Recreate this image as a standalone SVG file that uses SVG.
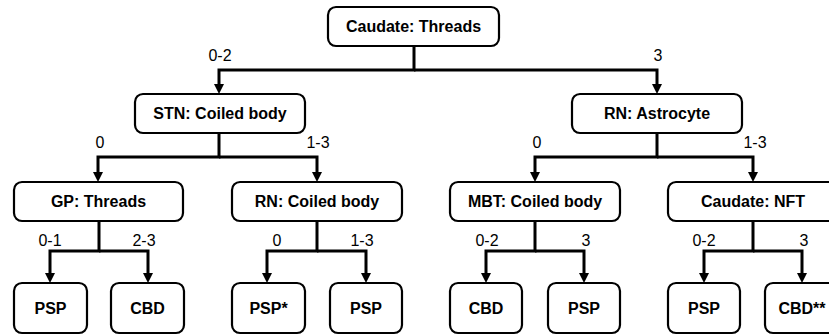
<svg xmlns="http://www.w3.org/2000/svg" width="829" height="335" viewBox="0 0 829 335">
  <defs>
    <marker id="arrow" markerUnits="userSpaceOnUse" markerWidth="11" markerHeight="11" refX="4" refY="5" orient="auto">
      <path d="M0,0 L10,5 L0,10 z" fill="#000"/>
    </marker>
    <style>
      .box { fill: #fff; stroke: #000; stroke-width: 2.2; }
      .node-text { font-family: "Liberation Sans", Arial, sans-serif; font-weight: bold; font-size: 16px; text-anchor: middle; fill: #000; }
      .edge { fill: none; stroke: #000; stroke-width: 3; stroke-linejoin: miter; }
      .label { font-family: "Liberation Sans", Arial, sans-serif; font-size: 16px; text-anchor: middle; fill: #000; }
    </style>
  </defs>
  <rect width="829" height="335" fill="#fff"/>

  <!-- connectors -->
  <g id="connectors">
    <path class="edge" d="M414,46 V70 H219 V88" marker-end="url(#arrow)"/>
    <path class="edge" d="M414,70 H657 V88" marker-end="url(#arrow)"/>

    <path class="edge" d="M219,133 V157 H98 V176" marker-end="url(#arrow)"/>
    <path class="edge" d="M219,157 H317 V176" marker-end="url(#arrow)"/>
    <path class="edge" d="M657,133 V157 H535 V176" marker-end="url(#arrow)"/>
    <path class="edge" d="M657,157 H753 V176" marker-end="url(#arrow)"/>

    <path class="edge" d="M99,221 V251 H50 V277" marker-end="url(#arrow)"/>
    <path class="edge" d="M99,251 H148 V277" marker-end="url(#arrow)"/>
    <path class="edge" d="M317,221 V251 H267 V277" marker-end="url(#arrow)"/>
    <path class="edge" d="M317,251 H366 V277" marker-end="url(#arrow)"/>
    <path class="edge" d="M535,221 V251 H486 V277" marker-end="url(#arrow)"/>
    <path class="edge" d="M535,251 H584 V277" marker-end="url(#arrow)"/>
    <path class="edge" d="M753,221 V251 H704 V277" marker-end="url(#arrow)"/>
    <path class="edge" d="M753,251 H802 V277" marker-end="url(#arrow)"/>

    <!-- branch labels -->
    <text class="label" x="220" y="61">0-2</text>
    <text class="label" x="658" y="61">3</text>
    <text class="label" x="100" y="148">0</text>
    <text class="label" x="318" y="148">1-3</text>
    <text class="label" x="537" y="148">0</text>
    <text class="label" x="755" y="148">1-3</text>
    <text class="label" x="50" y="246">0-1</text>
    <text class="label" x="144" y="246">2-3</text>
    <text class="label" x="277" y="246">0</text>
    <text class="label" x="362" y="246">1-3</text>
    <text class="label" x="487" y="246">0-2</text>
    <text class="label" x="586" y="246">3</text>
    <text class="label" x="704" y="246">0-2</text>
    <text class="label" x="804" y="246">3</text>
  </g>

  <!-- level 0 -->
  <g id="caudate-threads">
    <rect class="box" x="328" y="7" width="171" height="39" rx="8"/>
    <text class="node-text" x="413.5" y="32">Caudate: Threads</text>
  </g>

  <!-- level 1 -->
  <g id="stn-coiled-body">
    <rect class="box" x="135" y="94" width="170" height="39" rx="8"/>
    <text class="node-text" x="220" y="119">STN: Coiled body</text>
  </g>
  <g id="rn-astrocyte">
    <rect class="box" x="572" y="94" width="170" height="39" rx="8"/>
    <text class="node-text" x="657" y="119">RN: Astrocyte</text>
  </g>

  <!-- level 2 -->
  <g id="gp-threads">
    <rect class="box" x="14" y="182" width="169" height="39" rx="8"/>
    <text class="node-text" x="98.5" y="207">GP: Threads</text>
  </g>
  <g id="rn-coiled-body">
    <rect class="box" x="232" y="182" width="170" height="39" rx="8"/>
    <text class="node-text" x="317" y="207">RN: Coiled body</text>
  </g>
  <g id="mbt-coiled-body">
    <rect class="box" x="450" y="182" width="170" height="39" rx="8"/>
    <text class="node-text" x="535" y="207">MBT: Coiled body</text>
  </g>
  <g id="caudate-nft">
    <rect class="box" x="668" y="182" width="170" height="39" rx="8"/>
    <text class="node-text" x="753" y="207">Caudate: NFT</text>
  </g>

  <!-- level 3 -->
  <g id="leaf-psp-1">
    <rect class="box" x="14" y="283" width="73" height="50" rx="8"/>
    <text class="node-text" x="50.5" y="314">PSP</text>
  </g>
  <g id="leaf-cbd-1">
    <rect class="box" x="111" y="283" width="73" height="50" rx="8"/>
    <text class="node-text" x="147.5" y="314">CBD</text>
  </g>
  <g id="leaf-psp-star">
    <rect class="box" x="232" y="283" width="73" height="50" rx="8"/>
    <text class="node-text" x="268.5" y="314">PSP*</text>
  </g>
  <g id="leaf-psp-2">
    <rect class="box" x="330" y="283" width="72" height="50" rx="8"/>
    <text class="node-text" x="366" y="314">PSP</text>
  </g>
  <g id="leaf-cbd-2">
    <rect class="box" x="450" y="283" width="72" height="50" rx="8"/>
    <text class="node-text" x="486" y="314">CBD</text>
  </g>
  <g id="leaf-psp-3">
    <rect class="box" x="548" y="283" width="72" height="50" rx="8"/>
    <text class="node-text" x="584" y="314">PSP</text>
  </g>
  <g id="leaf-psp-4">
    <rect class="box" x="668" y="283" width="72" height="50" rx="8"/>
    <text class="node-text" x="704" y="314">PSP</text>
  </g>
  <g id="leaf-cbd-star">
    <rect class="box" x="765" y="283" width="73" height="50" rx="8"/>
    <text class="node-text" x="802" y="314">CBD**</text>
  </g>
</svg>
